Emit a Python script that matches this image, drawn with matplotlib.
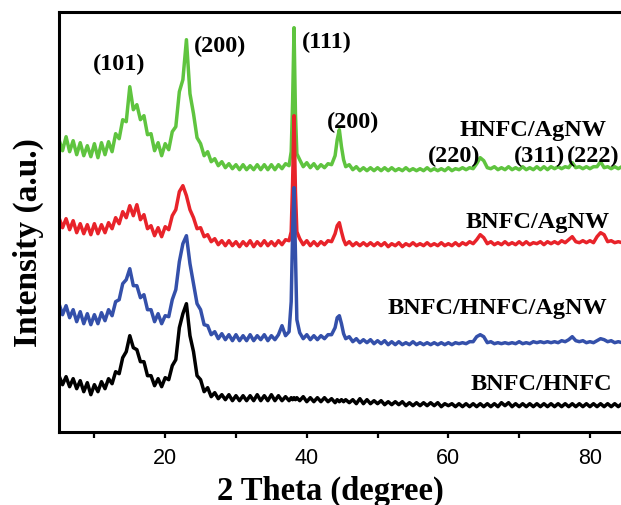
import matplotlib
matplotlib.use("Agg")
import matplotlib.pyplot as plt

# 2-theta sample positions (degree)
two_theta = [
    5.0, 5.5, 6.0, 6.5, 7.0, 7.5, 8.0, 8.5, 9.0, 9.5,
    10.0, 10.5, 11.0, 11.5, 12.0, 12.5, 13.0, 13.5, 14.0, 14.5,
    15.0, 15.5, 16.0, 16.5, 17.0, 17.5, 18.0, 18.5, 19.0, 19.5,
    20.0, 20.5, 21.0, 21.5, 22.0, 22.5, 23.0, 23.5, 24.0, 24.5,
    25.0, 25.5, 26.0, 26.5, 27.0, 27.5, 28.0, 28.5, 29.0, 29.5,
    30.0, 30.5, 31.0, 31.5, 32.0, 32.5, 33.0, 33.5, 34.0, 34.5,
    35.0, 35.5, 36.0, 36.5, 37.0, 37.5,
    37.8, 38.0, 38.2, 38.4, 38.6,
    39.0, 39.5, 40.0, 40.5, 41.0, 41.5, 42.0, 42.5, 43.0, 43.5, 44.0,
    44.3, 44.6, 44.9, 45.2,
    45.5, 46.0, 46.5, 47.0, 47.5, 48.0, 48.5, 49.0, 49.5, 50.0,
    50.5, 51.0, 51.5, 52.0, 52.5, 53.0, 53.5, 54.0, 54.5, 55.0,
    55.5, 56.0, 56.5, 57.0, 57.5, 58.0, 58.5, 59.0, 59.5, 60.0,
    60.5, 61.0, 61.5, 62.0, 62.5, 63.0, 63.5, 64.0, 64.5, 65.0,
    65.5, 66.0, 66.5, 67.0, 67.5, 68.0, 68.5, 69.0, 69.5, 70.0,
    70.5, 71.0, 71.5, 72.0, 72.5, 73.0, 73.5, 74.0, 74.5, 75.0,
    75.5, 76.0, 76.5, 77.0, 77.5, 78.0, 78.5, 79.0, 79.5, 80.0,
    80.5, 81.0, 81.5, 82.0, 82.5, 83.0, 83.5, 84.0, 84.5, 85.0,
]

# stacked intensities (a.u., offset already included)
hnfc_agnw = [
    292, 281, 295, 280, 291, 277, 289, 276, 286, 275,
    288, 274, 289, 277, 290, 280, 298, 293, 312, 310,
    345, 322, 327, 312, 316, 297, 298, 281, 289, 276,
    288, 282, 300, 305, 340, 352, 392, 338, 318, 294,
    288, 276, 280, 270, 273, 266, 270, 264, 268, 263,
    267, 262, 267, 262, 266, 262, 267, 262, 267, 262,
    267, 262, 267, 263, 268, 266,
    280, 330, 404, 318, 278,
    272, 265, 269, 264, 268, 263, 267, 264, 268, 267, 276,
    292, 302, 285, 272,
    265, 267, 262, 265, 261, 264, 261, 264, 261, 264,
    261, 264, 261, 264, 261, 263, 261, 264, 261, 263,
    261, 263, 261, 264, 261, 263, 261, 263, 261, 264,
    261, 263, 262, 264, 262, 264, 263, 268, 274, 271,
    264, 263, 265, 262, 264, 262, 265, 262, 264, 262,
    265, 262, 264, 262, 265, 262, 265, 262, 265, 263,
    265, 263, 265, 264, 269, 264, 265, 263, 265, 263,
    265, 265, 270, 264, 265, 263, 265, 263, 265, 264,
]

bnfc_agnw = [
    214, 204, 213, 202, 211, 199, 208, 198, 207, 197,
    208, 198, 207, 199, 209, 203, 214, 208, 220, 214,
    226, 216, 227, 212, 217, 203, 206, 196, 204, 195,
    205, 202, 216, 222, 240, 246, 236, 222, 214, 203,
    204, 195, 197, 190, 193, 187, 191, 186, 191, 186,
    190, 185, 190, 186, 191, 185, 190, 186, 191, 186,
    190, 186, 191, 187, 192, 191,
    200, 250, 316, 240, 200,
    193, 187, 191, 186, 190, 186, 190, 187, 191, 190, 198,
    206, 209, 200, 192,
    187, 190, 186, 189, 186, 189, 186, 189, 186, 189,
    186, 189, 185, 188, 186, 189, 185, 188, 186, 189,
    186, 188, 186, 189, 186, 188, 186, 189, 186, 188,
    186, 189, 186, 189, 187, 190, 188, 192, 197, 194,
    188, 190, 187, 189, 187, 190, 187, 189, 187, 190,
    187, 190, 187, 189, 188, 190, 187, 190, 188, 190,
    188, 191, 189, 192, 195, 190, 189, 191, 189, 191,
    189, 195, 199, 197, 190, 191, 189, 190, 189, 190,
]

bnfc_hnfc_agnw = [
    128, 117, 126, 114, 122, 110, 120, 108, 118, 107,
    117, 108, 119, 111, 122, 116, 130, 132, 148, 152,
    163, 146, 146, 134, 137, 122, 122, 110, 118, 108,
    116, 115, 132, 142, 170, 188, 196, 168, 148, 128,
    122, 107, 106, 97, 100, 93, 98, 92, 97, 91,
    97, 91, 96, 91, 97, 91, 96, 92, 97, 91,
    96, 92, 97, 106, 96, 100,
    130, 200, 244, 180, 112,
    99, 93, 97, 92, 96, 92, 96, 93, 97, 97, 104,
    114, 116, 108, 98,
    93, 95, 90, 93, 89, 92, 89, 92, 88, 91,
    88, 91, 87, 90, 87, 90, 87, 89, 87, 90,
    87, 89, 87, 89, 87, 89, 87, 89, 87, 89,
    87, 89, 88, 89, 88, 90, 90, 95, 97, 95,
    89, 90, 88, 89, 88, 89, 88, 89, 88, 90,
    88, 89, 88, 90, 89, 90, 89, 90, 89, 90,
    89, 91, 90, 92, 95, 91, 90, 91, 89, 90,
    89, 91, 93, 92, 90, 91, 89, 90, 89, 90,
]

bnfc_hnfc = [
    56, 47, 55, 45, 53, 43, 51, 40, 49, 37,
    47, 40, 50, 43, 53, 48, 60, 58, 74, 80,
    96, 84, 82, 70, 70, 56, 56, 46, 53, 45,
    54, 52, 66, 72, 104, 118, 128, 96, 80, 56,
    52, 40, 44, 35, 39, 33, 37, 32, 37, 31,
    36, 31, 36, 31, 36, 31, 37, 31, 36, 31,
    37, 31, 36, 31, 35, 31,
    34, 32, 34, 32, 34,
    31, 35, 30, 34, 30, 34, 30, 34, 30, 33, 29,
    32, 30, 32, 30,
    32, 29, 32, 28, 33, 28, 32, 28, 31, 28,
    31, 27, 30, 27, 30, 27, 30, 26, 29, 26,
    29, 26, 29, 26, 29, 26, 29, 25, 28, 26,
    28, 25, 28, 25, 28, 25, 28, 25, 28, 25,
    28, 25, 28, 25, 29, 26, 29, 25, 28, 25,
    28, 25, 28, 25, 28, 25, 28, 25, 28, 25,
    28, 25, 28, 25, 28, 25, 28, 25, 28, 25,
    28, 25, 28, 25, 28, 25, 28, 25, 28, 25,
]

sample_names = ["HNFC/AgNW", "BNFC/AgNW", "BNFC/HNFC/AgNW", "BNFC/HNFC"]
sample_colors = ["#5fc43f", "#e8232a", "#3450aa", "#000000"]
sample_label_pos = [(72.0, 297), (72.6, 205), (66.9, 119), (73.2, 43)]

peak_labels = ["(101)", "(200)", "(111)", "(200)", "(220)", "(311)", "(222)"]
peak_label_pos = [(13.5, 363), (27.8, 381), (42.9, 385), (46.5, 305),
                  (60.8, 271), (72.9, 271), (80.5, 271)]

series = [hnfc_agnw, bnfc_agnw, bnfc_hnfc_agnw, bnfc_hnfc]
for s in series:
    assert len(s) == len(two_theta)

plt.rcParams["font.family"] = ["Liberation Sans", "DejaVu Sans"]
serif = ["Liberation Serif", "DejaVu Serif"]

fig = plt.figure(figsize=(6.21, 5.06), dpi=100)
# axes run past the right edge, like the cropped original
ax = fig.add_axes([0.095, 0.1449, 0.969, 0.830])

for ys, c in zip(series, sample_colors):
    ax.plot(two_theta, ys, color=c, linewidth=2.5)

for name, (x, y) in zip(sample_names, sample_label_pos):
    ax.text(x, y, name, ha="center", va="baseline", fontsize=17.5,
            fontweight="bold", family=serif)
for lab, (x, y) in zip(peak_labels, peak_label_pos):
    ax.text(x, y, lab, ha="center", va="baseline", fontsize=17.5,
            fontweight="bold", family=serif)

ax.set_xlim(5, 90)
ax.set_ylim(0, 420)
ax.set_xticks([20, 40, 60, 80])
ax.set_xticks([10, 30, 50, 70], minor=True)
ax.set_yticks([])
ax.tick_params(axis="x", which="both", direction="out", length=4,
               width=1.6, pad=7, labelsize=15.5)
for sp in ax.spines.values():
    sp.set_linewidth(2.2)

fig.text(330 / 621, 1 - 500 / 506, "2 Theta (degree)", ha="center",
         va="baseline", fontsize=23.5, fontweight="bold", family=serif)
fig.text(28 / 621, 1 - 243 / 506, "Intensity (a.u.)", ha="center",
         va="center", rotation=90, fontsize=24, fontweight="bold",
         family=serif)

fig.savefig("out.png", dpi=100)
